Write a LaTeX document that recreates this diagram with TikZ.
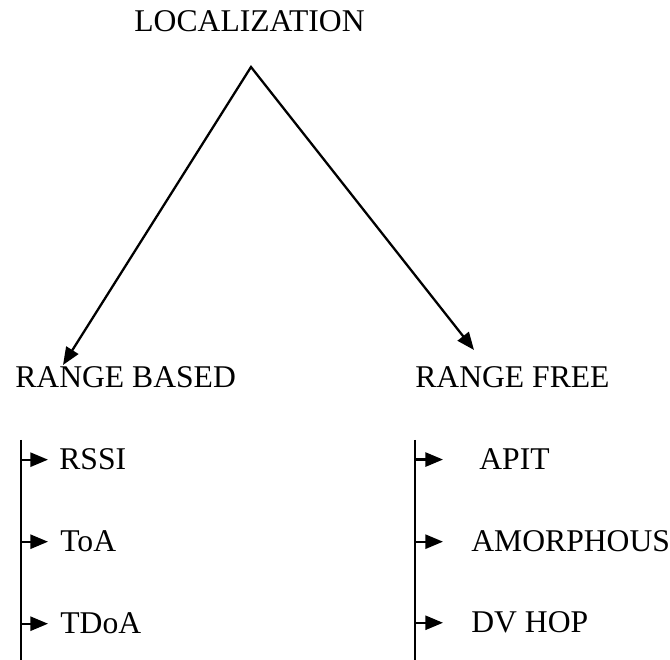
\documentclass[tikz,border=0pt]{standalone}
\usepackage{fontspec}
\setmainfont{Liberation Serif}
\usetikzlibrary{arrows.meta,positioning}

\begin{document}
\begin{tikzpicture}[every node/.style={font=\fontsize{18}{20}\selectfont, inner sep=0pt, anchor=base west},
		branch/.style={line width=1.3pt, line join=miter, {Triangle[length=10pt,width=8pt]}-{Triangle[length=10pt,width=8pt]}},
		leaf/.style={line width=1.3pt, -{Triangle[length=10pt,width=8pt]}},
		bar/.style={line width=1.3pt}, scale=1]
		\useasboundingbox (0,0) rectangle (13.4,13.2);
		\node[anchor=base] (loc) at (4.99,12.56) {LOCALIZATION};
		\coordinate (apex) at (5.02,11.86);
		\node (rb) at (0.30,5.44) {RANGE BASED};
		\node (rf) at (8.30,5.44) {RANGE FREE};
		\coordinate (rbtip) at (1.26,5.90);
		\coordinate (rftip) at (9.48,6.20);
		\draw[branch] (rbtip) -- (apex) -- (rftip);
		% range based
		\node (rssi) at (1.18,3.80) {RSSI};
		\node (toa) at (1.20,2.16) {ToA};
		\node (tdoa) at (1.20,0.52) {TDoA};
		\coordinate (ltop) at (0.42,4.40);
		\coordinate (lbot) at (0.42,0);
		\coordinate (lend) at (0.96,0);
		\draw[bar] (ltop) -- (lbot);
		\foreach \n in {rssi,toa,tdoa} \draw[leaf] (ltop |- \n) -- (lend |- \n);
		% range free
		\node (apit) at (9.58,3.80) {APIT};
		\node (amor) at (9.42,2.16) {AMORPHOUS};
		\node (dvhop) at (9.42,0.54) {DV HOP};
		\coordinate (rtop) at (8.30,4.40);
		\coordinate (rbot) at (8.30,0);
		\coordinate (rend) at (8.86,0);
		\draw[bar] (rtop) -- (rbot);
		\foreach \n in {apit,amor,dvhop} \draw[leaf] (rtop |- \n) -- (rend |- \n);
	\end{tikzpicture}
\end{document}
